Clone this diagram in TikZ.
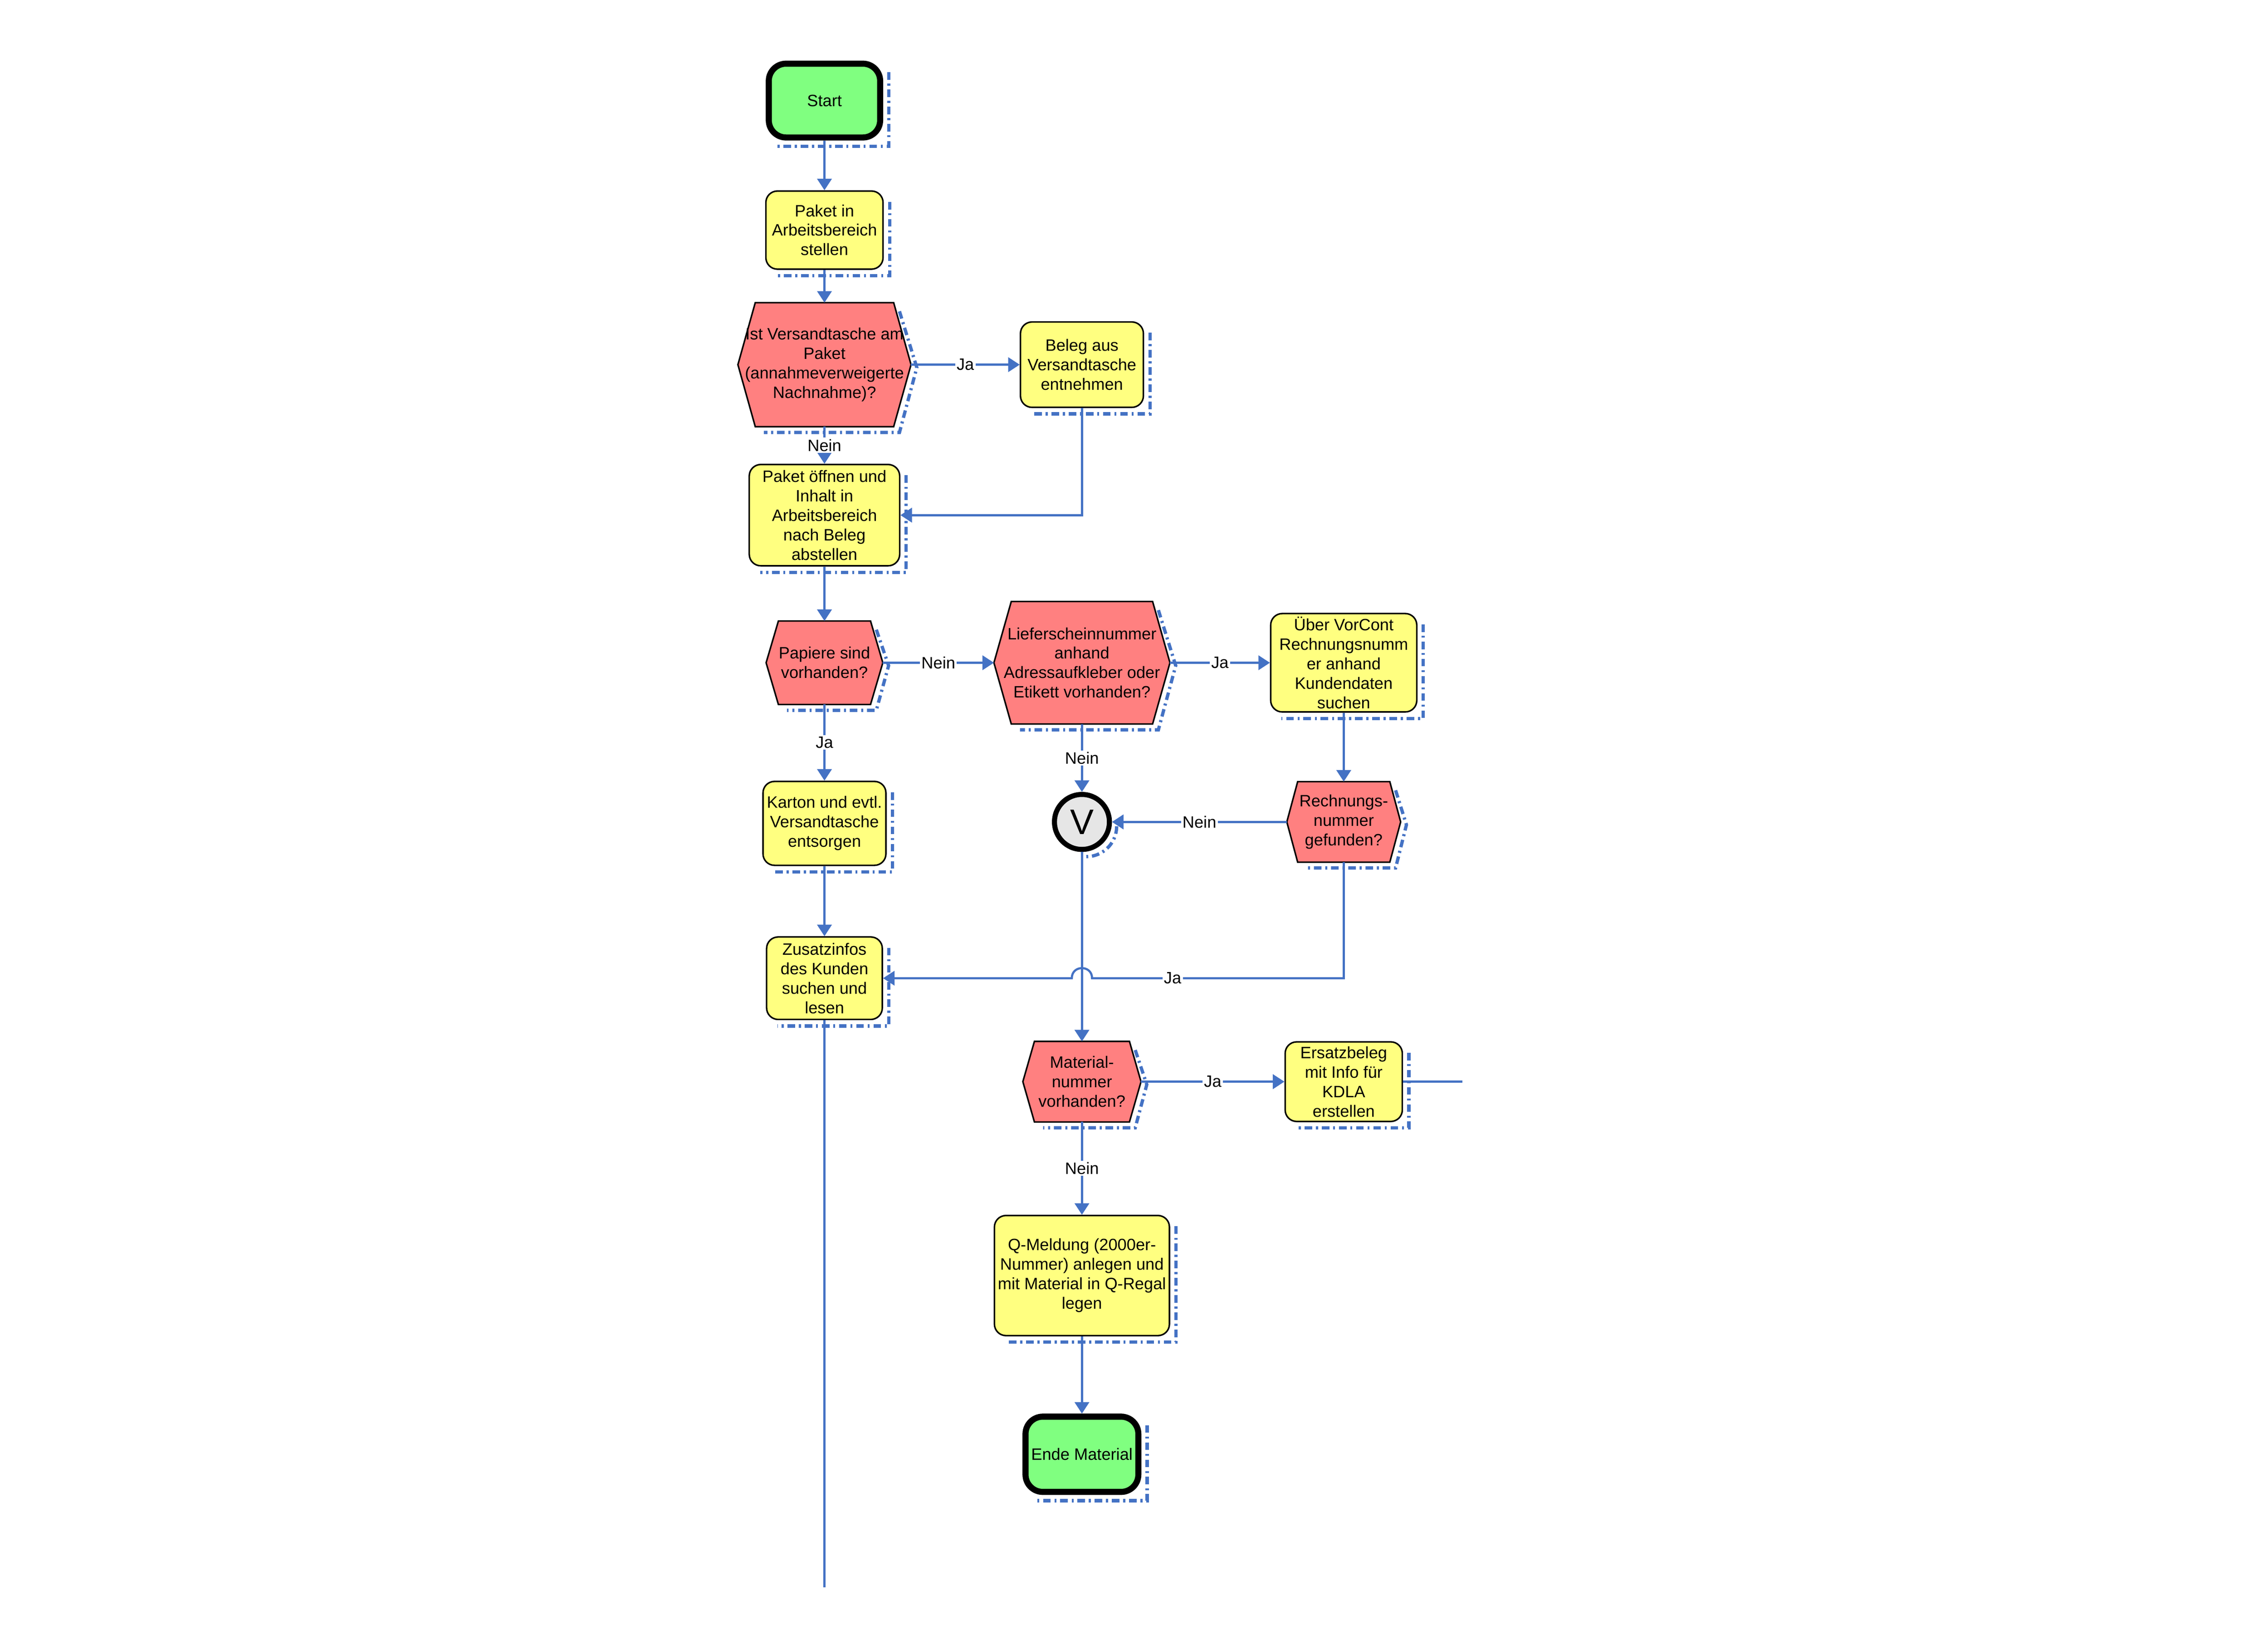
\documentclass[tikz,border=0pt]{standalone}
\usepackage{fontspec}
\setmainfont{Liberation Sans}
\usetikzlibrary{arrows.meta,calc}
\pgfdeclarelayer{bg}
\pgfdeclarelayer{mid}
\pgfsetlayers{bg,mid,main}
\definecolor{lblue}{HTML}{4472C4}
\definecolor{fyel}{HTML}{FFFF80}
\definecolor{fred}{HTML}{FF8080}
\definecolor{fgrn}{HTML}{80FF80}
\definecolor{fgry}{HTML}{E6E6E6}
\newcommand{\pxu}{0.0201cm}
\newcommand{\hexa}[2]{%
  \begin{pgfonlayer}{mid}
    \draw[hexa] ([shift={(#2,0)}]#1.north west) -- ([shift={(-#2,0)}]#1.north east) -- (#1.east) -- ([shift={(-#2,0)}]#1.south east) -- ([shift={(#2,0)}]#1.south west) -- (#1.west) -- cycle;
  \end{pgfonlayer}
  \begin{pgfonlayer}{bg}
    \draw[shd] ([shift={(4-#2,6)}]#1.north east) -- ([shift={(4,2)}]#1.east) -- ([shift={(4-#2,4)}]#1.south east) -- ([shift={(6+#2,4)}]#1.south west);
  \end{pgfonlayer}}
\newcommand{\rshd}[1]{%
  \begin{pgfonlayer}{bg}
    \draw[shd] ([shift={(4,8)}]#1.north east) -- ([shift={(4,4)}]#1.south east) -- ([shift={(8,4)}]#1.south west);
  \end{pgfonlayer}}
\begin{document}
\begin{tikzpicture}[x=0.0201cm,y=-0.0201cm,
  every node/.style={font=\fontsize{6.5}{7.7}\selectfont, align=center, inner sep=0pt},
  proc/.style={draw=black, line width=0.6pt, fill=fyel, rounded corners=0.16cm},
  term/.style={draw=black, line width=2.4pt, fill=fgrn, rounded corners=0.24cm},
  dec/.style={inner sep=0pt},
  hexa/.style={draw=black, line width=0.6pt, fill=fred},
  conn/.style={draw=lblue, line width=0.85pt, -{Triangle[length=0.16cm,width=0.2cm]}},
  plain/.style={draw=lblue, line width=0.85pt},
  lab/.style={fill=white, inner sep=0.6pt},
  shd/.style={draw=lblue, line width=1.3pt, dash pattern=on 3pt off 1.5pt on 0.8pt off 1.5pt},
]
\useasboundingbox (0,0) rectangle (1568,1126.3);

\node[term, minimum width=77*\pxu, minimum height=51*\pxu] (start) at (570,69.5) {Start};
\node[proc, minimum width=81*\pxu, minimum height=54*\pxu] (p1) at (570,159) {Paket in\\Arbeitsbereich\\stellen};
\node[dec, minimum width=119*\pxu, minimum height=85*\pxu] (q1) at (570,252) {Ist Versandtasche am\\Paket\\(annahmeverweigerte\\Nachnahme)?};
\node[proc, minimum width=85*\pxu, minimum height=59*\pxu] (beleg) at (748,252) {Beleg aus\\Versandtasche\\entnehmen};
\node[proc, minimum width=104*\pxu, minimum height=70*\pxu] (oeff) at (570,356) {Paket öffnen und\\Inhalt in\\Arbeitsbereich\\nach Beleg\\abstellen};
\node[dec, minimum width=80*\pxu, minimum height=57*\pxu] (pap) at (570,458) {Papiere sind\\vorhanden?};
\node[dec, minimum width=121*\pxu, minimum height=84*\pxu] (lief) at (748,458) {Lieferscheinnummer\\anhand\\Adressaufkleber oder\\Etikett vorhanden?};
\node[proc, minimum width=101*\pxu, minimum height=68*\pxu] (vorc) at (929,458) {Über VorCont\\Rechnungsnumm\\er anhand\\Kundendaten\\suchen};
\node[circle, draw=black, line width=2pt, fill=fgry, minimum size=38*\pxu, font=\fontsize{14}{16}\selectfont] (vor) at (748,568) {V};
\node[dec, minimum width=78*\pxu, minimum height=55*\pxu] (rech) at (929,568) {Rechnungs-\\nummer\\gefunden?};
\node[proc, minimum width=85*\pxu, minimum height=58*\pxu] (kart) at (570,569) {Karton und evtl.\\Versandtasche\\entsorgen};
\node[proc, minimum width=80*\pxu, minimum height=57*\pxu] (zus) at (570,676) {Zusatzinfos\\des Kunden\\suchen und\\lesen};
\node[dec, minimum width=81*\pxu, minimum height=55*\pxu] (mat) at (748,747.5) {Material-\\nummer\\vorhanden?};
\node[proc, minimum width=81*\pxu, minimum height=55*\pxu] (ers) at (929,747.5) {Ersatzbeleg\\mit Info für\\KDLA\\erstellen};
\node[proc, minimum width=121*\pxu, minimum height=83*\pxu] (qm) at (748,881.5) {Q-Meldung (2000er-\\Nummer) anlegen und\\mit Material in Q-Regal\\legen};
\node[term, minimum width=78*\pxu, minimum height=52*\pxu] (ende) at (748,1005) {Ende Material};
\coordinate (endE) at (1011,747.5);
\coordinate (endZ) at (570,1097);

\hexa{q1}{12}
\hexa{pap}{8.5}
\hexa{lief}{12}
\hexa{rech}{7.5}
\hexa{mat}{8}
\rshd{start}\rshd{p1}\rshd{beleg}\rshd{oeff}\rshd{vorc}\rshd{kart}\rshd{zus}\rshd{ers}\rshd{qm}\rshd{ende}
\begin{pgfonlayer}{bg}
  \draw[shd] (772,571) arc[start angle=0,end angle=-90,radius=21*\pxu];
\end{pgfonlayer}

\draw[conn] (start) -- (p1);
\draw[conn] (p1) -- (q1);
\draw[conn] (q1.east) -- node[lab]{Ja} (beleg.west);
\draw[conn] (q1.south) -- node[lab]{Nein} (oeff.north);
\draw[conn] (beleg.south) |- (oeff.east);
\draw[conn] (oeff.south) -- (pap.north);
\draw[conn] (pap.east) -- node[lab]{Nein} (lief.west);
\draw[conn] (lief.east) -- node[lab]{Ja} (vorc.west);
\draw[conn] (lief.south) -- node[lab]{Nein} (vor.north);
\draw[conn] (vorc.south) -- (rech.north);
\draw[conn] (rech.west) -- node[lab]{Nein} (vor.east);
\draw[conn] (pap.south) -- node[lab]{Ja} (kart.north);
\draw[conn] (kart.south) -- (zus.north);
\draw[conn] (rech.south) -- (929,676) -- node[lab,pos=0.68]{Ja} (755,676) .. controls (755,666.7) and (741,666.7) .. (741,676) -- (zus.east);
\draw[conn] (vor.south) -- (mat.north);
\draw[conn] (mat.east) -- node[lab]{Ja} (ers.west);
\draw[plain] (ers.east) -- (endE);
\draw[conn] (mat.south) -- node[lab]{Nein} (qm.north);
\draw[conn] (qm.south) -- (ende.north);
\draw[plain] (zus.south) -- (endZ);
\end{tikzpicture}
\end{document}
